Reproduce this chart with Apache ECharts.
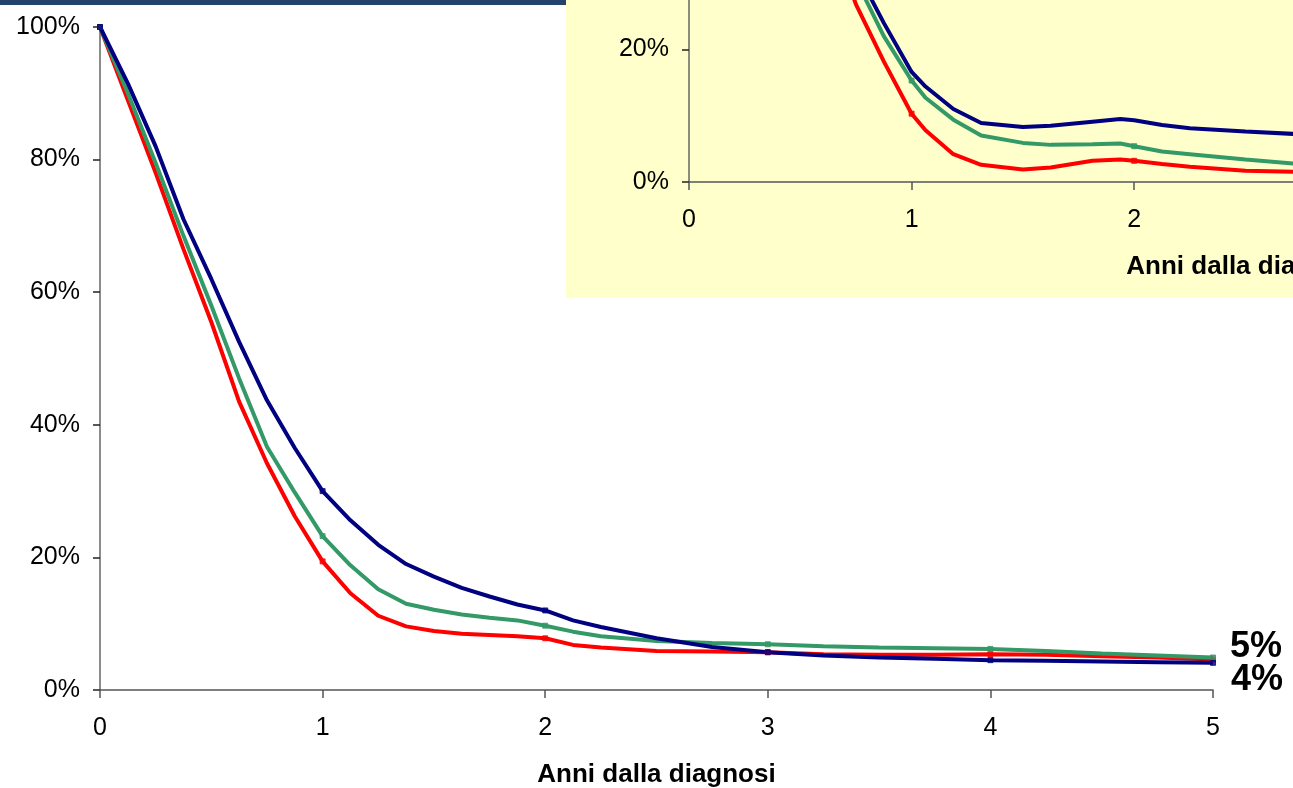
<!DOCTYPE html>
<html>
<head>
<meta charset="utf-8">
<script src="https://cdn.jsdelivr.net/npm/echarts@6/dist/echarts.min.js"></script>
<style>
html,body{margin:0;padding:0;background:#fff;}
#chart{width:1293px;height:788px;}
</style>
</head>
<body>
<div id="chart"></div>
<script>
// ---- Main chart data (years since diagnosis, % surviving) ----
const mainYears = [0, 0.125, 0.25, 0.375, 0.5, 0.625, 0.75, 0.875, 1, 1.125, 1.25, 1.375, 1.5, 1.625, 1.75, 1.875, 2, 2.125, 2.25, 2.5, 2.75, 3, 3.25, 3.5, 3.75, 4, 4.25, 4.5, 4.75, 5];
const mainNavy  = [100, 91.5, 82, 71, 62, 52.5, 43.7, 36.5, 30, 25.6, 21.9, 19.0, 17.1, 15.4, 14.1, 12.9, 12.0, 10.5, 9.5, 7.8, 6.5, 5.7, 5.2, 4.9, 4.7, 4.5, 4.4, 4.3, 4.2, 4.1];
const mainGreen = [100, 90, 79.5, 68.5, 58, 47, 36.7, 29.8, 23.2, 18.8, 15.2, 13.0, 12.1, 11.4, 10.9, 10.5, 9.7, 8.8, 8.1, 7.4, 7.1, 6.9, 6.6, 6.4, 6.3, 6.2, 5.9, 5.5, 5.2, 4.9];
const mainRed   = [100, 89, 78, 66.5, 55.5, 43.5, 34.2, 26.2, 19.4, 14.6, 11.2, 9.6, 8.9, 8.5, 8.3, 8.1, 7.8, 6.8, 6.4, 5.9, 5.8, 5.7, 5.4, 5.3, 5.3, 5.4, 5.3, 5.1, 4.9, 4.6];

// ---- Inset chart data ----
const insetYears = [0, 0.5, 0.75, 0.875, 1, 1.0625, 1.1875, 1.3125, 1.5, 1.625, 1.8125, 1.9375, 2, 2.125, 2.25, 2.5, 2.75];
const insetNavy  = [100, 58, 32, 24.0, 16.6, 14.4, 11.0, 8.9, 8.3, 8.5, 9.1, 9.5, 9.3, 8.6, 8.1, 7.6, 7.2];
const insetGreen = [100, 55, 30.5, 22.0, 15.3, 12.7, 9.4, 7.0, 5.9, 5.6, 5.7, 5.8, 5.4, 4.6, 4.2, 3.4, 2.7];
const insetRed   = [100, 50, 26.8, 18.2, 10.3, 7.8, 4.2, 2.6, 1.9, 2.2, 3.2, 3.4, 3.2, 2.7, 2.3, 1.7, 1.5];

const xTicks = [0, 1, 2, 3, 4, 5];
const yTicks = [0, 20, 40, 60, 80, 100];
const axisTitle = 'Anni dalla diagnosi';

const NAVY = '#000080', GREEN = '#339966', RED = '#FF0000';
const FONT = "'Liberation Sans', Arial, sans-serif";

function pairs(xs, ys) { return xs.map((x, i) => [x, ys[i]]); }
function marks(xs, ys) { return xs.map((x, i) => [x, ys[i]]).filter(p => Number.isInteger(p[0])); }

function xAxisCfg(gridIndex) {
  return {
    gridIndex, type: 'value', min: xTicks[0], max: xTicks[xTicks.length - 1], interval: 1,
    name: axisTitle, nameLocation: 'middle', nameGap: 72,
    nameTextStyle: { fontFamily: FONT, fontSize: 26, fontWeight: 'bold', color: '#000' },
    axisLine: { show: true, lineStyle: { color: '#555', width: 1.5 } },
    axisTick: { show: true, length: 8, lineStyle: { color: '#555', width: 1.5 } },
    axisLabel: { fontFamily: FONT, fontSize: 25, color: '#000', margin: 26 },
    splitLine: { show: false }
  };
}
function yAxisCfg(gridIndex) {
  return {
    gridIndex, type: 'value', min: yTicks[0], max: yTicks[yTicks.length - 1], interval: 20,
    axisLine: { show: true, lineStyle: { color: '#666', width: 1.5 } },
    axisTick: { show: true, length: 7, inside: false, lineStyle: { color: '#222', width: 1.5 } },
    axisLabel: { fontFamily: FONT, fontSize: 25, color: '#000', margin: 20, formatter: '{value}%' },
    splitLine: { show: false }
  };
}
function lineSeries(xi, data, color, extra) {
  return Object.assign({
    type: 'line', xAxisIndex: xi, yAxisIndex: xi, data, showSymbol: false, symbol: 'none',
    lineStyle: { color, width: 4 }, itemStyle: { color }, silent: true, animation: false,
    clip: false
  }, extra || {});
}
function markSeries(xi, data, color) {
  return { type: 'scatter', xAxisIndex: xi, yAxisIndex: xi, data, symbol: 'rect', symbolSize: 5,
    itemStyle: { color, borderColor: color }, silent: true, animation: false, z: 3 };
}

const endLbl = (dx, dy) => ({
  show: true, formatter: p => Math.round(p.value[1]) + '%', distance: 0, offset: [dx, dy],
  fontFamily: FONT, fontSize: 36, fontWeight: 'bold', color: '#000'
});

const chart = echarts.init(document.getElementById('chart'), null, { renderer: 'canvas' });
chart.setOption({
  backgroundColor: '#ffffff',
  animation: false,
  graphic: [
    { type: 'rect', left: 0, top: 0, shape: { width: 566, height: 5 }, style: { fill: '#23446A' }, z: -10 },
    { type: 'rect', left: 566, top: 0, shape: { width: 727, height: 298 }, style: { fill: '#FFFFCC' }, z: -10 }
  ],
  grid: [
    { left: 100, top: 27, width: 1113, height: 663, outerBoundsMode: 'none', containLabel: false },
    { left: 689, top: -481, width: 1113, height: 663, outerBoundsMode: 'none', containLabel: false }
  ],
  xAxis: [xAxisCfg(0), xAxisCfg(1)],
  yAxis: [yAxisCfg(0), yAxisCfg(1)],
  series: [
    lineSeries(0, pairs(mainYears, mainRed), RED),
    lineSeries(0, pairs(mainYears, mainGreen), GREEN, { endLabel: endLbl(17, -10) }),
    lineSeries(0, pairs(mainYears, mainNavy), NAVY, { endLabel: endLbl(18, 17) }),
    markSeries(0, marks(mainYears, mainRed), RED),
    markSeries(0, marks(mainYears, mainGreen), GREEN),
    markSeries(0, marks(mainYears, mainNavy), NAVY),
    lineSeries(1, pairs(insetYears, insetRed), RED),
    lineSeries(1, pairs(insetYears, insetGreen), GREEN),
    lineSeries(1, pairs(insetYears, insetNavy), NAVY),
    markSeries(1, marks(insetYears, insetRed), RED),
    markSeries(1, marks(insetYears, insetGreen), GREEN)
  ]
});
</script>
</body>
</html>
